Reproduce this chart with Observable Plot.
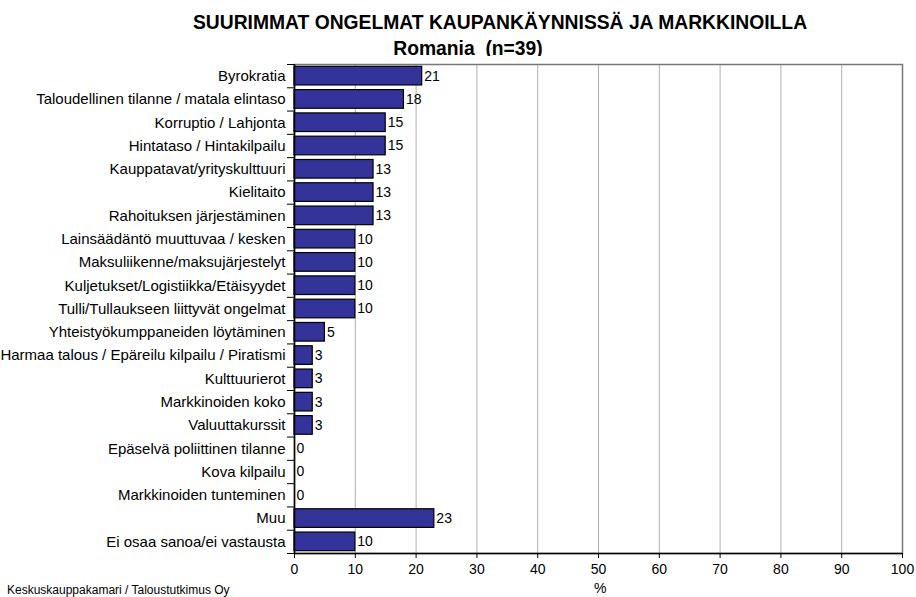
<!DOCTYPE html>
<html>
<head>
<meta charset="utf-8">
<script src="https://cdn.jsdelivr.net/npm/d3@7"></script>
<script src="https://cdn.jsdelivr.net/npm/@observablehq/plot@0.6"></script>
<style>
  html, body { margin: 0; padding: 0; background: #fff; }
  body { font-family: "Liberation Sans", Arial, sans-serif; }
  #wrap { position: relative; width: 916px; height: 597px; overflow: hidden; }
  .title { position: absolute; left: 0; width: 916px; text-align: center; font-weight: bold; color: #000; white-space: nowrap; box-sizing: border-box; }
  #t1 { top: 13px; font-size: 19.3px; line-height: 20px; padding-left: 84px; }
  #t2 { top: 39px; font-size: 19.3px; line-height: 20px; padding-left: 20px; }
  #chart { position: absolute; left: 0; top: 56px; }
  #pct { position: absolute; left: 594px; top: 580px; font-size: 14px; }
  #src { position: absolute; left: 7px; top: 583px; font-size: 12px; color: #000; }
</style>
</head>
<body>
<div id="wrap">
  <div class="title" id="t1">SUURIMMAT ONGELMAT KAUPANKÄYNNISSÄ JA MARKKINOILLA</div>
  <div class="title" id="t2">Romania&nbsp;&nbsp;(n=39)</div>
  <div id="chart"></div>
  <div id="pct">%</div>
  <div id="src">Keskuskauppakamari / Taloustutkimus Oy</div>
</div>
<script>
const categories = [
  "Byrokratia",
  "Taloudellinen tilanne / matala elintaso",
  "Korruptio / Lahjonta",
  "Hintataso / Hintakilpailu",
  "Kauppatavat/yrityskulttuuri",
  "Kielitaito",
  "Rahoituksen järjestäminen",
  "Lainsäädäntö muuttuvaa / kesken",
  "Maksuliikenne/maksujärjestelyt",
  "Kuljetukset/Logistiikka/Etäisyydet",
  "Tulli/Tullaukseen liittyvät ongelmat",
  "Yhteistyökumppaneiden löytäminen",
  "Harmaa talous / Epäreilu kilpailu / Piratismi",
  "Kulttuurierot",
  "Markkinoiden koko",
  "Valuuttakurssit",
  "Epäselvä poliittinen tilanne",
  "Kova kilpailu",
  "Markkinoiden tunteminen",
  "Muu",
  "Ei osaa sanoa/ei vastausta"
];
const values = [21, 18, 15, 15, 13, 13, 13, 10, 10, 10, 10, 5, 3, 3, 3, 3, 0, 0, 0, 23, 10];
const xTicks = [0, 10, 20, 30, 40, 50, 60, 70, 80, 90, 100];

const data = categories.map((c, i) => ({ i, category: c, value: values[i] }));
const n = categories.length;
const halfBar = 0.4;

const chart = Plot.plot({
  width: 916,
  height: 541,
  marginTop: 8,
  marginBottom: 44,
  marginLeft: 294,
  marginRight: 14,
  style: { fontFamily: "'Liberation Sans', Arial, sans-serif", fontSize: "14px", color: "#000", background: "#fff", overflow: "visible" },
  x: { domain: [0, 100], ticks: xTicks, label: null },
  y: { domain: [n - 0.5, -0.5], label: null },
  marks: [
    Plot.ruleX(xTicks.slice(1, -1), { stroke: "#b0b0b0", strokeWidth: 1 }),
    Plot.frame({ stroke: "#777777", strokeWidth: 1.5 }),
    Plot.rect(data, {
      x1: 0, x2: "value",
      y1: d => d.i - halfBar, y2: d => d.i + halfBar,
      fill: "#333399", stroke: "#000", strokeWidth: 1.2
    }),
    Plot.text(data, {
      x: "value", y: "i", text: d => String(d.value),
      textAnchor: "start", dx: 2, fontSize: 14, fill: "#000"
    }),
    Plot.axisY(d3.range(n), {
      tickFormat: i => categories[i], tickSize: 0, tickPadding: 9,
      fontSize: 15, label: null
    }),
    Plot.axisY(d3.range(n + 1).map(i => i - 0.5), {
      tickFormat: () => "", tickSize: 7, stroke: "#000", label: null
    }),
    Plot.ruleX([0], { stroke: "#000", strokeWidth: 1.5 }),
    Plot.ruleY([n - 0.5], { stroke: "#000", strokeWidth: 1.5 }),
    Plot.axisX(xTicks, { tickSize: 5, tickPadding: 6, fontSize: 14, label: null, stroke: "#000" })
  ]
});
document.getElementById("chart").appendChild(chart);
</script>
</body>
</html>
